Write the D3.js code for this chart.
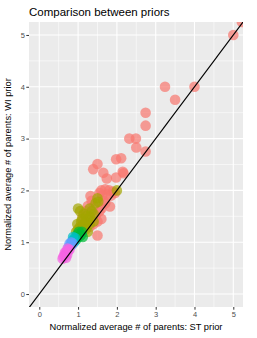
<!DOCTYPE html>
<html><head><meta charset="utf-8">
<script src="https://cdn.jsdelivr.net/npm/d3@7"></script>
<style>body{margin:0;background:#fff}text{font-family:"Liberation Sans",Arial,sans-serif}</style>
</head><body>
<svg id="c" width="257" height="338"></svg>
<script>
const xTicks=[0,1,2,3,4,5];
const yTicks=[0,1,2,3,4,5];
const groups=["g1","g2","g3","g4","g5","g6"];
const groupColors=["#F8766D","#A3A500","#00BA38","#00BFC4","#619CFF","#F564E3"];
const g1=[[5,5],[5.22,5.25],[4,4],[3.24,4.0],[3.5,3.75],[2.74,3.5],[2.74,3.25],[2.74,2.75],[2.32,3.0],[2.49,3.0],[2.5,2.83],[1.98,2.6],[2.11,2.62],[1.5,2.51],[1.39,2.41],[1.65,2.34],[1.74,2.23],[1.98,2.25],[2.17,2.33],[2.15,2.36],[1.6,2.0],[1.7,2.02],[1.8,2.0],[1.9,1.98],[1.75,1.92],[1.62,1.9],[1.85,1.9],[1.95,1.95],[1.32,1.89],[1.82,1.69],[1.12,1.51],[1.5,1.13],[1.5,1.4],[1.45,1.5],[1.6,1.65],[1.55,1.6],[1.4,1.7],[1.7,1.75],[1.35,1.8],[1.6,1.45],[1.2,1.6],[1.3,1.3],[1.65,1.8],[1.55,1.95],[1.4,1.35],[1.25,1.7]];
const g2=[[0.95,1.2],[1.0,1.25],[1.05,1.3],[0.98,1.35],[1.1,1.3],[1.15,1.35],[1.2,1.4],[1.25,1.45],[1.2,1.5],[1.1,1.45],[1.05,1.6],[1.0,1.65],[1.3,1.5],[1.35,1.6],[1.4,1.55],[1.45,1.75],[1.5,1.85],[1.52,1.78],[1.3,1.65],[1.25,1.2],[1.3,1.35],[2.0,2.0],[1.4,1.4],[1.15,1.55],[1.08,1.4],[1.2,1.25]];
const g3=[[0.95,1.05],[1.0,1.1],[1.05,1.12],[0.98,1.15],[1.08,1.15],[1.1,1.2],[1.12,1.1],[1.02,1.2]];
const g4=[[0.85,1.02],[0.88,1.05],[0.9,1.0],[0.92,1.08],[0.87,1.1]];
const g5=[[0.75,0.9],[0.8,0.92],[0.78,0.97],[0.84,0.95],[0.82,1.0],[0.86,0.98]];
const g6=[[0.62,0.72],[0.65,0.75],[0.68,0.78],[0.7,0.82],[0.66,0.8],[0.72,0.76],[0.75,0.84],[0.6,0.68],[0.73,0.88],[0.78,0.86],[0.69,0.7]];
const series=[g1,g2,g3,g4,g5,g6];

const svg=d3.select("#c");
const L=29,R=243,T=22,B=307;
const x=d3.scaleLinear().domain([-0.265,5.25]).range([L,R]);
const y=d3.scaleLinear().domain([-0.25,5.25]).range([B,T]);
const color=d3.scaleOrdinal().domain(groups).range(groupColors);

svg.append("text").attr("x",L).attr("y",16).attr("font-size",11.5).attr("fill","#000").text("Comparison between priors");
svg.append("rect").attr("x",L).attr("y",T).attr("width",R-L).attr("height",B-T).attr("fill","#EBEBEB");
svg.append("clipPath").attr("id","cp").append("rect").attr("x",L).attr("y",T).attr("width",R-L).attr("height",B-T);
const minor=[-0.5,0.5,1.5,2.5,3.5,4.5];
const gg=svg.append("g");
minor.forEach(v=>{
  gg.append("line").attr("x1",x(v)).attr("x2",x(v)).attr("y1",T).attr("y2",B).attr("stroke","#fff").attr("stroke-width",0.55).attr("clip-path","url(#cp)");
  gg.append("line").attr("y1",y(v)).attr("y2",y(v)).attr("x1",L).attr("x2",R).attr("stroke","#fff").attr("stroke-width",0.55).attr("clip-path","url(#cp)");
});
xTicks.forEach(v=>gg.append("line").attr("x1",x(v)).attr("x2",x(v)).attr("y1",T).attr("y2",B).attr("stroke","#fff").attr("stroke-width",1.1));
yTicks.forEach(v=>gg.append("line").attr("y1",y(v)).attr("y2",y(v)).attr("x1",L).attr("x2",R).attr("stroke","#fff").attr("stroke-width",1.1));

const pts=svg.append("g").attr("clip-path","url(#cp)");
series.forEach((s,i)=>{
  pts.selectAll(null).data(s).enter().append("circle")
    .attr("cx",d=>x(d[0])).attr("cy",d=>y(d[1])).attr("r",5.3)
    .attr("fill",color(groups[i])).attr("fill-opacity",0.7);
});
svg.append("line").attr("clip-path","url(#cp)")
  .attr("x1",x(-1)).attr("y1",y(-1)).attr("x2",x(6)).attr("y2",y(6))
  .attr("stroke","#000").attr("stroke-width",1.1);

const xa=svg.append("g").attr("transform",`translate(0,${B})`).call(d3.axisBottom(x).tickValues(xTicks).tickSize(2.7).tickPadding(1.5).tickFormat(d3.format("d")));
const ya=svg.append("g").attr("transform",`translate(${L},0)`).call(d3.axisLeft(y).tickValues(yTicks).tickSize(2.7).tickPadding(1.5).tickFormat(d3.format("d")));
[xa,ya].forEach(a=>{a.select(".domain").remove();a.selectAll("line").attr("stroke","#333");a.selectAll("text").attr("fill","#4D4D4D").attr("font-size",7.5).attr("font-family","Liberation Sans, Arial, sans-serif");});
svg.append("text").attr("x",(L+R)/2).attr("y",330).attr("text-anchor","middle").attr("font-size",9.3).text("Normalized average # of parents: ST prior");
svg.append("text").attr("transform",`translate(11,${(T+B)/2}) rotate(-90)`).attr("text-anchor","middle").attr("font-size",9.3).text("Normalized average # of parents: WI prior");
</script></body></html>
